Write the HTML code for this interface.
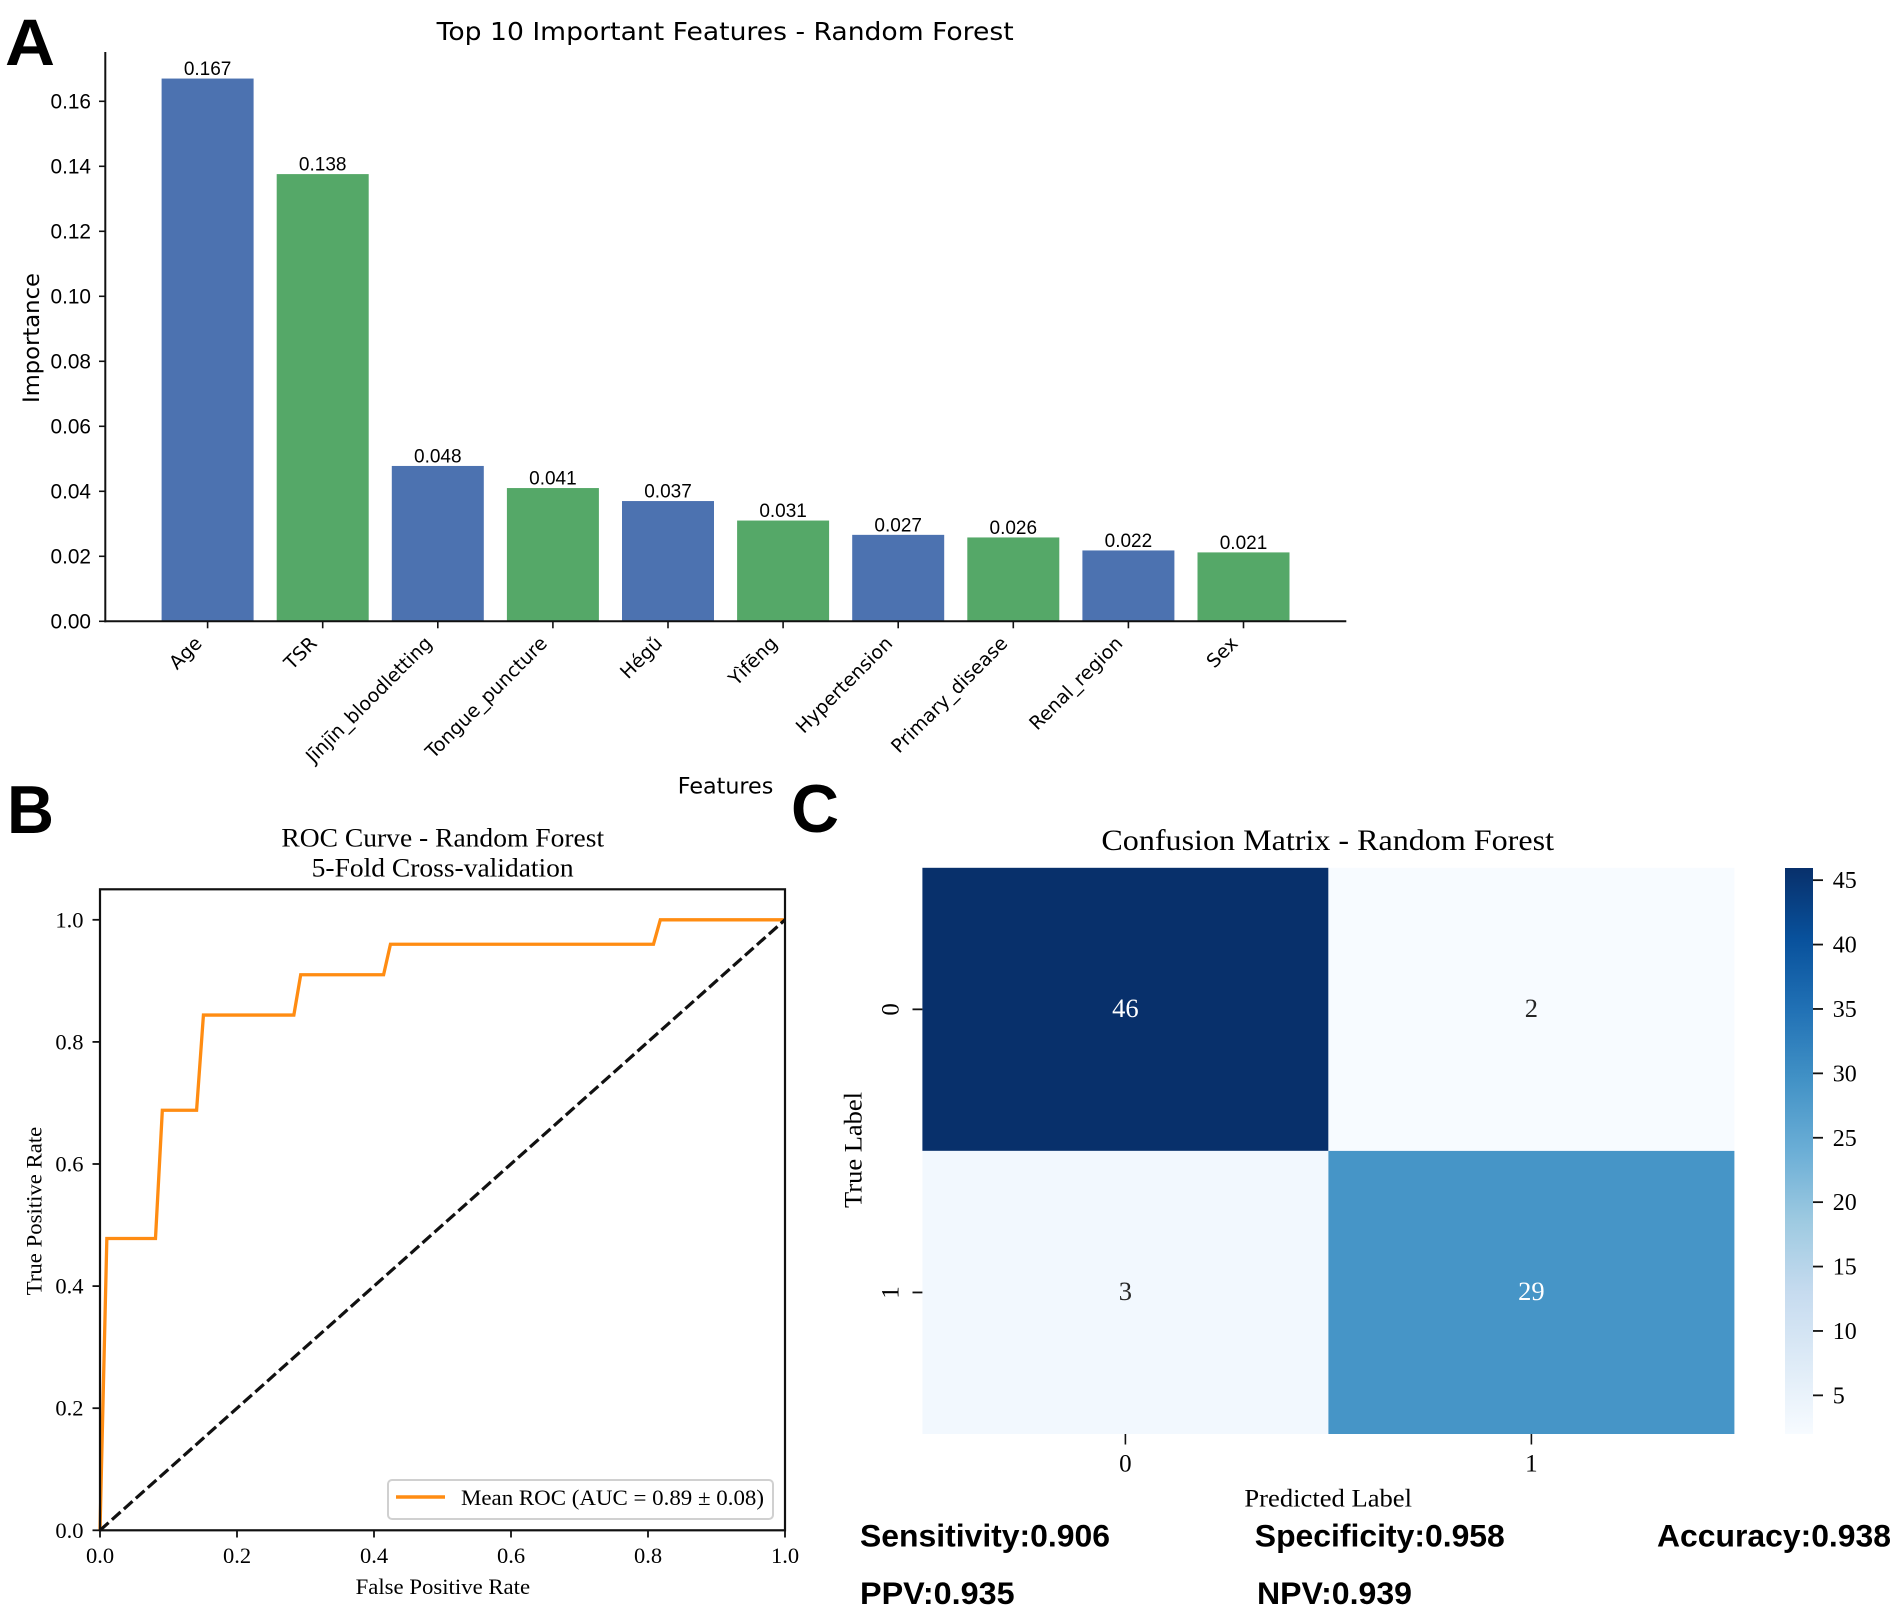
<!DOCTYPE html>
<html lang="en">
<head>
<meta charset="utf-8">
<title>Random Forest Model Figure</title>
<style>
  html, body { margin: 0; padding: 0; background: #fff; }
  #figure { display: block; }
  .sans { font-family: "Liberation Sans", sans-serif; }
  .dejavu { font-family: "DejaVu Sans", sans-serif; }
  .serif { font-family: "Liberation Serif", serif; }
</style>
</head>
<body>
<svg id="figure" xmlns="http://www.w3.org/2000/svg" width="1902" height="1619" viewBox="0 0 1902 1619">
  <defs>
    <linearGradient id="blues-gradient" x1="0" y1="1" x2="0" y2="0"></linearGradient>
  </defs>
  <rect x="0" y="0" width="1902" height="1619" fill="#fff"/>

  <text class="sans" x="5" y="65" font-size="66" font-weight="700" textLength="50" lengthAdjust="spacingAndGlyphs">A</text>
  <text class="sans" x="7" y="833" font-size="68" font-weight="700" textLength="47" lengthAdjust="spacingAndGlyphs">B</text>
  <text class="sans" x="791" y="832" font-size="68" font-weight="700" textLength="48" lengthAdjust="spacingAndGlyphs">C</text>

  <g id="panel-a">
    <text class="dejavu" x="436.7" y="40" font-size="25" textLength="577" lengthAdjust="spacingAndGlyphs">Top 10 Important Features - Random Forest</text>
    <text class="dejavu" transform="translate(39,338) rotate(-90)" text-anchor="middle" font-size="22" textLength="130" lengthAdjust="spacingAndGlyphs">Importance</text>
    <text class="dejavu" x="677.8" y="793.3" font-size="22" textLength="95.5" lengthAdjust="spacingAndGlyphs">Features</text>
    <g id="a-bars"></g>
    <g id="a-axes"></g>
  </g>

  <g id="panel-b">
    <text class="serif" x="281.4" y="846.7" font-size="26" textLength="322.7" lengthAdjust="spacingAndGlyphs">ROC Curve - Random Forest</text>
    <text class="serif" x="311.7" y="876.7" font-size="26" textLength="262" lengthAdjust="spacingAndGlyphs">5-Fold Cross-validation</text>
    <text class="serif" transform="translate(41.5,1211) rotate(-90)" text-anchor="middle" font-size="22.5" textLength="168.5" lengthAdjust="spacingAndGlyphs">True Positive Rate</text>
    <text class="serif" x="355.6" y="1594" font-size="22.5" textLength="174.5" lengthAdjust="spacingAndGlyphs">False Positive Rate</text>
    <g id="b-lines"></g>
    <rect x="100" y="889.3" width="685" height="641" fill="none" stroke="#111" stroke-width="2.2"/>
    <g id="b-axes"></g>
    <g>
      <rect x="388" y="1480" width="385" height="39" rx="4" ry="4" fill="#fff" stroke="#d0d0d0" stroke-width="2"/>
      <line x1="396" y1="1497" x2="445" y2="1497" stroke="#ff8c12" stroke-width="3.4"/>
      <text class="serif" x="461" y="1505" font-size="22.5" textLength="303" lengthAdjust="spacingAndGlyphs">Mean ROC (AUC = 0.89 ± 0.08)</text>
    </g>
  </g>

  <g id="panel-c">
    <text class="serif" x="1101.4" y="850" font-size="30" textLength="452.6" lengthAdjust="spacingAndGlyphs">Confusion Matrix - Random Forest</text>
    <text class="serif" transform="translate(861.5,1150) rotate(-90)" text-anchor="middle" font-size="25" textLength="116" lengthAdjust="spacingAndGlyphs">True Label</text>
    <text class="serif" x="1244.4" y="1506.7" font-size="25" textLength="167.6" lengthAdjust="spacingAndGlyphs">Predicted Label</text>
    <g id="c-cells"></g>
    <g id="c-axes"></g>
    <rect x="1785" y="868" width="28" height="566" fill="url(#blues-gradient)"/>
    <g id="c-colorbar-axis"></g>
  </g>

  <g class="sans" font-size="31.5" font-weight="700">
    <text x="860" y="1546.7" textLength="250" lengthAdjust="spacingAndGlyphs">Sensitivity:0.906</text>
    <text x="1254.8" y="1546.7" textLength="250" lengthAdjust="spacingAndGlyphs">Specificity:0.958</text>
    <text x="1657" y="1546.7" textLength="234" lengthAdjust="spacingAndGlyphs">Accuracy:0.938</text>
    <text x="860" y="1604" textLength="154.6" lengthAdjust="spacingAndGlyphs">PPV:0.935</text>
    <text x="1257" y="1604" textLength="155" lengthAdjust="spacingAndGlyphs">NPV:0.939</text>
  </g>
</svg>

<script>
// ---- Panel A data ----
const featureNames = ["Age", "TSR", "Jīnjīn_bloodletting", "Tongue_puncture", "Hégǔ", "Yìfēng", "Hypertension", "Primary_disease", "Renal_region", "Sex"];
const featureImportance = [0.167, 0.1376, 0.0478, 0.041, 0.037, 0.031, 0.0266, 0.0258, 0.0218, 0.0212];
const importanceTicks = [0, 0.02, 0.04, 0.06, 0.08, 0.10, 0.12, 0.14, 0.16];
const barPalette = ["#4c72b0", "#55a868"];

// ---- Panel B data ----
const rocFpr = [0, 0.010, 0.081, 0.091, 0.141, 0.151, 0.283, 0.293, 0.414, 0.424, 0.808, 0.818, 1];
const rocTpr = [0, 0.478, 0.478, 0.688, 0.688, 0.844, 0.844, 0.910, 0.910, 0.960, 0.960, 1, 1];
const chanceFpr = [0, 1];
const chanceTpr = [0, 1];
const rocTicks = [0, 0.2, 0.4, 0.6, 0.8, 1.0];

// ---- Panel C data ----
const matrixLabels = ["0", "1"];
const matrixRow0 = [46, 2];
const matrixRow1 = [3, 29];
const colorbarTicks = [5, 10, 15, 20, 25, 30, 35, 40, 45];
const bluesColormap = ["#f7fbff", "#deebf7", "#c6dbef", "#9ecae1", "#6baed6", "#4292c6", "#2171b5", "#08519c", "#08306b"];

const SVG_NS = "http://www.w3.org/2000/svg";
function mk(tag, attrs, parent, text) {
  const node = document.createElementNS(SVG_NS, tag);
  for (const key in attrs) node.setAttribute(key, attrs[key]);
  if (text !== undefined) node.textContent = text;
  parent.appendChild(node);
  return node;
}

// ---- Axis functions ----
const xA = i => 207.6 + i * 115.1;
const yA = v => 621.3 - v * 3250;
const xB = v => 100 + v * 685;
const yB = v => 1530.3 - v * 610.5;
const xC = i => 922.4 + (i + 0.5) * 406;
const yC = i => 867.8 + (i + 0.5) * 283.1;
const yBar = v => 1434 - (v - 2) * 12.88;

// ---- Panel A ----
const aBars = document.getElementById("a-bars");
const aAxes = document.getElementById("a-axes");
const barWidth = 92;
featureImportance.forEach((value, i) => {
  const bar = mk("rect", { x: xA(i) - barWidth / 2, y: yA(value), width: barWidth, height: yA(0) - yA(value), fill: barPalette[i % barPalette.length] }, aBars);
  
  
  const valueLabel = mk("text", { x: xA(i), y: yA(value) - 3.4, "text-anchor": "middle", "font-size": 19, "class": "sans" }, aBars, value.toFixed(3));
  
  
  const tick = mk("line", { x1: xA(i), x2: xA(i), y1: yA(0), y2: yA(0) + 7, stroke: "#111", "stroke-width": 1.6 }, aAxes);
  
  
  const label = mk("text", { transform: "translate(" + (xA(i) - 4.6) + ",644.5) rotate(-45)", "text-anchor": "end", "font-size": 19, "class": "dejavu" }, aAxes, featureNames[i]);
  
  
});
importanceTicks.forEach(value => {
  const tick = mk("line", { x1: 99, x2: 105.3, y1: yA(value), y2: yA(value), stroke: "#111", "stroke-width": 1.6 }, aAxes);
  
  
  const label = mk("text", { x: 91, y: yA(value) + 7.3, "text-anchor": "end", "font-size": 20.8, "class": "sans" }, aAxes, value.toFixed(2));
  
  
});
const aSpineY = mk("line", { x1: 105.3, x2: 105.3, y1: 52, y2: 622.3, stroke: "#111", "stroke-width": 2 }, aAxes);


const aSpineX = mk("line", { x1: 104.3, x2: 1346.3, y1: yA(0), y2: yA(0), stroke: "#111", "stroke-width": 2 }, aAxes);



// ---- Panel B ----
const bLines = document.getElementById("b-lines");
const bAxes = document.getElementById("b-axes");
const rocPoints = rocFpr.map((v, i) => xB(v) + "," + yB(rocTpr[i])).join(" ");
const rocLine = mk("polyline", { points: rocPoints, fill: "none", stroke: "#ff8c12", "stroke-width": 3.3, "stroke-linejoin": "miter" }, bLines);


const chanceLine = mk("line", { x1: xB(chanceFpr[0]), y1: yB(chanceTpr[0]), x2: xB(chanceFpr[1]), y2: yB(chanceTpr[1]), stroke: "#111", "stroke-width": 3.2, "stroke-dasharray": "11.5 4.5" }, bLines);


rocTicks.forEach(value => {
  const xTick = mk("line", { x1: xB(value), x2: xB(value), y1: 1530.3, y2: 1537.5, stroke: "#111", "stroke-width": 1.8 }, bAxes);
  
  
  const xLabel = mk("text", { x: xB(value), y: 1563, "text-anchor": "middle", "font-size": 22.5, "class": "serif" }, bAxes, value.toFixed(1));
  
  
  const yTick = mk("line", { x1: 92.5, x2: 100, y1: yB(value), y2: yB(value), stroke: "#111", "stroke-width": 1.8 }, bAxes);
  
  
  const yLabel = mk("text", { x: 83.5, y: yB(value) + 7.5, "text-anchor": "end", "font-size": 22.5, "class": "serif" }, bAxes, value.toFixed(1));
  
  
});

// ---- Panel C ----
function hexToRgb(hex) {
  return [1, 3, 5].map(p => parseInt(hex.slice(p, p + 2), 16));
}
function bluesAt(t) {
  const scaled = Math.max(0, Math.min(1, t)) * (bluesColormap.length - 1);
  const low = Math.min(Math.floor(scaled), bluesColormap.length - 2);
  const a = hexToRgb(bluesColormap[low]);
  const b = hexToRgb(bluesColormap[low + 1]);
  const frac = scaled - low;
  return "rgb(" + a.map((c, i) => Math.round(c + (b[i] - c) * frac)).join(",") + ")";
}
const matrixRows = [matrixRow0, matrixRow1];
const allCells = matrixRow0.concat(matrixRow1);
const minCell = Math.min.apply(null, allCells);
const maxCell = Math.max.apply(null, allCells);
const normCell = v => (v - minCell) / (maxCell - minCell);
const cCells = document.getElementById("c-cells");
const cAxes = document.getElementById("c-axes");
matrixRows.forEach((row, r) => {
  row.forEach((value, c) => {
    const cell = mk("rect", { x: xC(c) - 203, y: yC(r) - 141.55, width: 406, height: 283.1, fill: bluesAt(normCell(value)) }, cCells);
    
    
    const annotation = mk("text", { x: xC(c), y: yC(r) + 7.5, "text-anchor": "middle", "font-size": 26.5, "class": "serif", fill: normCell(value) > 0.5 ? "#fff" : "#262626" }, cCells, String(value));
    
    
  });
});
matrixLabels.forEach((name, i) => {
  const xTick = mk("line", { x1: xC(i), x2: xC(i), y1: 1434, y2: 1444.5, stroke: "#111", "stroke-width": 1.6 }, cAxes);
  
  
  const xLabel = mk("text", { x: xC(i), y: 1471.7, "text-anchor": "middle", "font-size": 25, "class": "serif" }, cAxes, name);
  
  
  const yTick = mk("line", { x1: 912.5, x2: 922.4, y1: yC(i), y2: yC(i), stroke: "#111", "stroke-width": 1.8 }, cAxes);
  
  
  const yLabel = mk("text", { transform: "translate(898.6," + yC(i) + ") rotate(-90)", "text-anchor": "middle", "font-size": 25, "class": "serif" }, cAxes, name);
  
  
});

// Colorbar
const gradient = document.getElementById("blues-gradient");
bluesColormap.forEach((color, i) => {
  mk("stop", { offset: i / (bluesColormap.length - 1), "stop-color": color }, gradient);
});
const cbAxis = document.getElementById("c-colorbar-axis");
colorbarTicks.forEach(value => {
  const tick = mk("line", { x1: 1813, x2: 1823, y1: yBar(value), y2: yBar(value), stroke: "#111", "stroke-width": 1.8 }, cbAxis);
  
  
  const label = mk("text", { x: 1832.7, y: yBar(value) + 8, "font-size": 24, "class": "serif" }, cbAxis, String(value));
  
  
});
</script>
</body>
</html>
